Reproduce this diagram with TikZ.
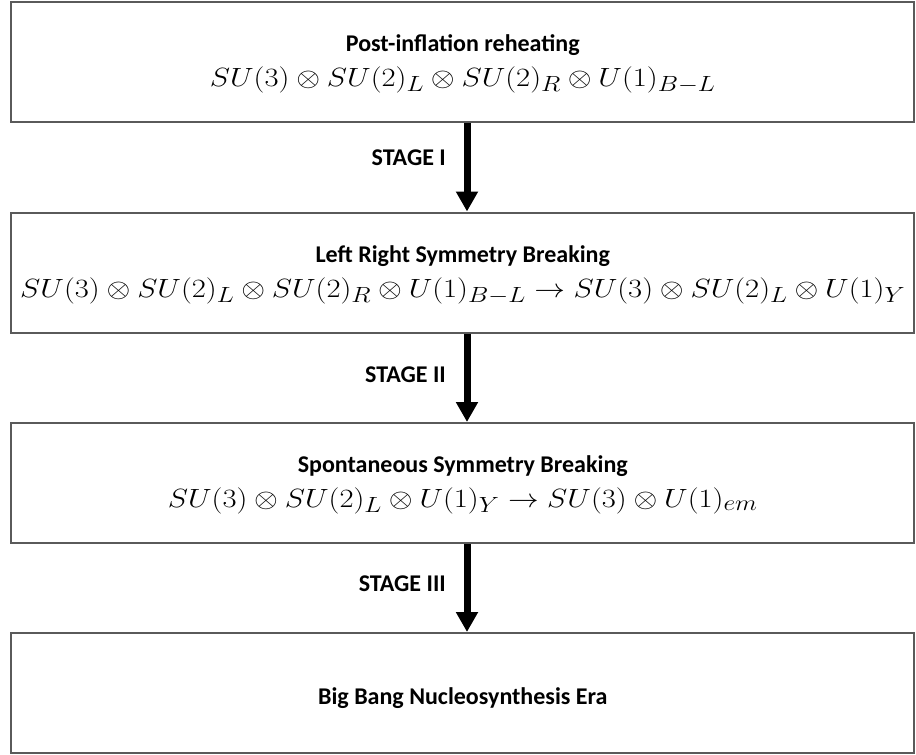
\documentclass[tikz,border=0pt]{standalone}
\usepackage{fontspec}
\usepackage{graphicx}
\usetikzlibrary{arrows.meta}
\newfontfamily\carlito{Carlito}
\definecolor{boxgray}{HTML}{5A5A5A}
\newcommand\mathsz{\fontsize{24.88}{30}\selectfont}
\newcommand\ttlsz{\carlito\bfseries\fontsize{24}{28}\selectfont}
\newsavebox\formbox
\newlength\formwd
\begin{document}
\begin{tikzpicture}[x=1pt,y=-1pt,
  box/.style={draw=boxgray, line width=2pt, minimum width=903pt, minimum height=120pt, inner sep=0pt},
  ttl/.style={font=\ttlsz, inner sep=0pt, anchor=base},
  fm/.style={inner sep=0pt, anchor=base},
  stagelbl/.style={font=\ttlsz, inner sep=0pt, anchor=base east},
  arr/.style={line width=7pt, -{Triangle[width=21pt,length=20pt]}}]
\useasboundingbox (0,0) rectangle (916,755);
\sbox\formbox{\mathsz$SU(3)\otimes SU(2)_L\otimes SU(2)_R\otimes U(1)_{B-L}\rightarrow SU(3)\otimes SU(2)_L\otimes U(1)_Y$}
\setlength\formwd{\wd\formbox}
\pgfmathsetmacro\xfac{885/\formwd}
\newcommand\fml[1]{\scalebox{\xfac}[1.06]{\mathsz$#1$}}
% boxes
\node[box] (b1) at (462.75,62) {};
\node[box] (b2) at (462.75,272.5) {};
\node[box] (b3) at (462.75,483) {};
\node[box] (b4) at (462.75,693) {};
% texts
\node[ttl] (t1) at (462.75,51) {Post-inflation reheating};
\node[fm] (f1) at (462.75,86) {\fml{SU(3)\otimes SU(2)_L\otimes SU(2)_R\otimes U(1)_{B-L}}};
\node[ttl] (t2) at (462.75,262) {Left Right Symmetry Breaking};
\node[fm] (f2) at (462.75,297) {\fml{SU(3)\otimes SU(2)_L\otimes SU(2)_R\otimes U(1)_{B-L}\rightarrow SU(3)\otimes SU(2)_L\otimes U(1)_Y}};
\node[ttl] (t3) at (462.75,472) {Spontaneous Symmetry Breaking};
\node[fm] (f3) at (462.75,507) {\fml{SU(3)\otimes SU(2)_L\otimes U(1)_Y\rightarrow SU(3)\otimes U(1)_{em}}};
\node[ttl] (t4) at (462.75,704) {Big Bang Nucleosynthesis Era};
% arrows
\coordinate (ax) at (467,0);
\draw[arr] (b1.south -| ax) -- (b2.north -| ax);
\draw[arr] (b2.south -| ax) -- (b3.north -| ax);
\draw[arr] (b3.south -| ax) -- (b4.north -| ax);
% stage labels
\node[stagelbl] (s1) at (446,165) {STAGE I};
\node[stagelbl] (s2) at (446,382) {STAGE II};
\node[stagelbl] (s3) at (446,591) {STAGE III};
\end{tikzpicture}
\end{document}
